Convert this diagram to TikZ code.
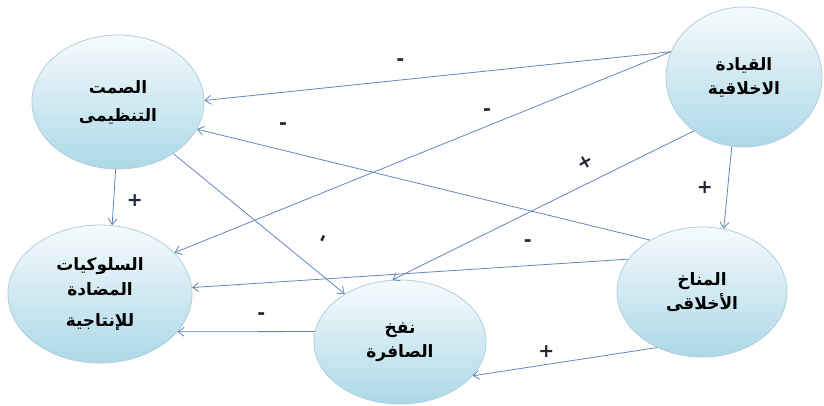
\documentclass[tikz,border=0pt]{standalone}
\usepackage{fontspec}
\usepackage{tikz}
\usetikzlibrary{shapes.geometric, arrows.meta}
\TeXXeTstate=1
\newfontfamily\arabicfont[Script=Arabic]{DejaVu Sans}
\newfontfamily\signfont{DejaVu Sans}
\definecolor{lineblue}{RGB}{98,134,188}
\definecolor{bubbletop}{RGB}{246,251,253}
\definecolor{bubblebot}{RGB}{172,216,231}
\definecolor{bubbleline}{RGB}{176,206,222}
\definecolor{signcol}{RGB}{30,38,52}
\tikzset{>={Straight Barb[length=6pt,width=9pt]}}

\begin{document}
\begin{tikzpicture}[x=1pt, y=-1pt,
  var/.style={ellipse, draw=bubbleline, line width=0.8pt, top color=bubbletop,
    bottom color=bubblebot, inner sep=0pt, align=center,
    font=\arabicfont\bfseries\fontsize{17}{24}\selectfont},
  sign/.style={font=\signfont\bfseries\fontsize{19}{19}\selectfont, text=signcol, inner sep=0pt}]
\useasboundingbox (0,0) rectangle (824,406);

\node[var, minimum width=172pt, minimum height=134pt] (silence) at (118,102)
  {\beginR الصمت\endR\\[4pt] \beginR التنظيمى\endR};
\node[var, minimum width=184pt, minimum height=138pt] (cwb) at (100,294)
  {\beginR السلوكيات\endR\\[1pt] \beginR المضادة\endR\\[7pt] \beginR للإنتاجية\endR};
\node[var, minimum width=172pt, minimum height=124pt] (whistle) at (400,342)
  {\beginR نفخ\endR\\ \beginR الصافرة\endR};
\node[var, minimum width=170pt, minimum height=130pt] (climate) at (702,292)
  {\beginR المناخ\endR\\ \beginR الأخلاقى\endR};
\node[var, minimum width=156pt, minimum height=140pt] (lead) at (744,77)
  {\beginR القيادة\endR\\ \beginR الاخلاقية\endR};

\path[->, lineblue, line width=0.8pt]
(lead.161)
edge node[sign, pos=.58, yshift=18pt] {-} (silence.1)
edge node[sign, pos=.37, yshift=14pt] {-} (cwb.29)
(lead.227)
edge node[sign, pos=.36, yshift=22pt, rotate=30] {+} (whistle.97)
(lead.260)
edge node[sign, pos=.5, xshift=-23pt] {+} (climate.71)
(climate.135)
edge node[sign, pos=.81, yshift=24pt] {-} (silence.341)
(climate.156)
edge node[sign, pos=.23, yshift=23pt] {-} (cwb.4)
(climate.231)
edge node[sign, pos=.6, yshift=13pt] {+} (whistle.335)
(whistle.173)
edge node[sign, pos=.39, yshift=16pt] {-} (cwb.334)
(silence.317)
edge node[sign, pos=.84, xshift=8pt, yshift=32pt, rotate=65] {-} (whistle.139)
(silence.268)
edge node[sign, pos=.55, xshift=21pt] {+} (cwb.80)
;
\end{tikzpicture}
\end{document}
